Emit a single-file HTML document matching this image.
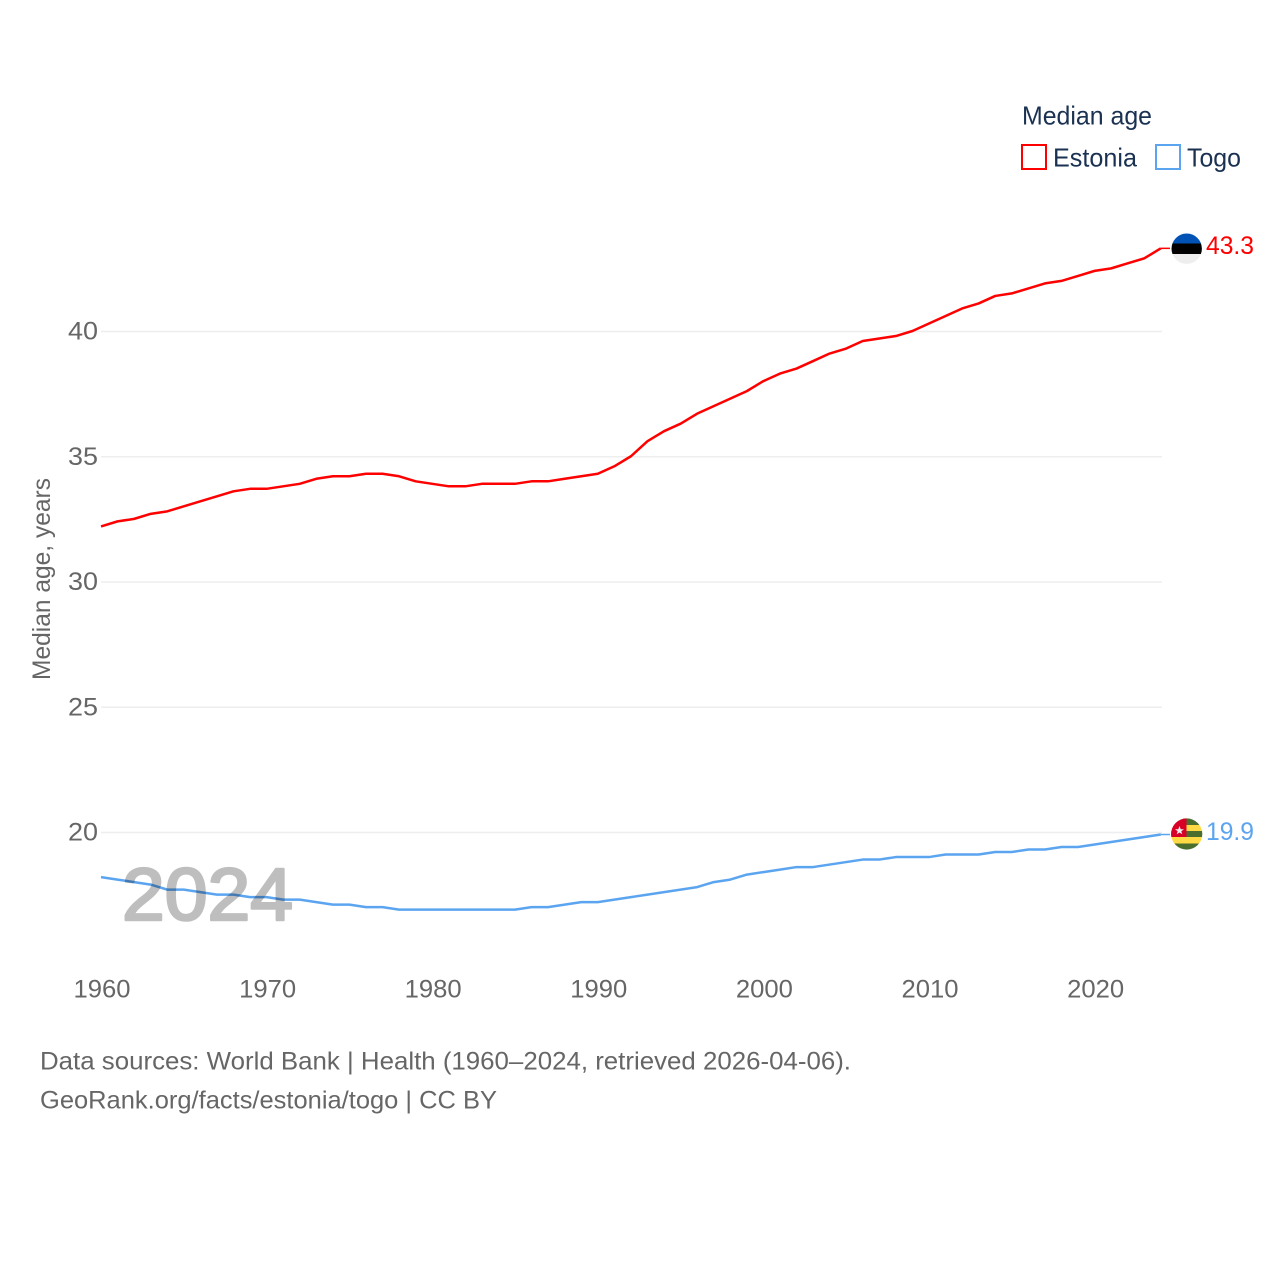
<!DOCTYPE html>
<html lang="en">
<head>
<meta charset="utf-8">
<title>Median age: Estonia and Togo</title>
<style>
  html, body { margin: 0; padding: 0; background: #fff; }
  svg { display: block; }
  text { font-family: "Liberation Sans", sans-serif; }
</style>
</head>
<body>
<svg id="chart" xmlns="http://www.w3.org/2000/svg" width="1280" height="1280" viewBox="0 0 1280 1280">
  <defs>
    <clipPath id="flag-clip-estonia"><circle cx="1186.7" cy="248.7" r="15.2"/></clipPath>
    <clipPath id="flag-clip-togo"><circle cx="1186.7" cy="834" r="15.6"/></clipPath>
  </defs>
  <rect x="0" y="0" width="1280" height="1280" fill="#ffffff"/>
  <g id="grid"></g>
  <g id="y-ticks"></g>
  <g id="x-ticks"></g>
  <text transform="translate(50,680) rotate(-90)" x="0" y="0" font-size="25" fill="#666666" textLength="202" lengthAdjust="spacingAndGlyphs">Median age, years</text>
  <g id="series"></g>
  <text x="122" y="920" font-size="74" fill="#000000" stroke="#000000" stroke-width="2.6" stroke-linejoin="round" opacity="0.25" textLength="171" lengthAdjust="spacingAndGlyphs">2024</text>

  <g clip-path="url(#flag-clip-estonia)">
    <rect x="1170" y="232" width="34" height="11.5" fill="#0052b4"/>
    <rect x="1170" y="243.5" width="34" height="10.5" fill="#000000"/>
    <rect x="1170" y="254" width="34" height="12" fill="#eeeeee"/>
  </g>
  <g clip-path="url(#flag-clip-togo)">
    <rect x="1170" y="817" width="34" height="8" fill="#496e2d"/>
    <rect x="1170" y="825" width="34" height="6" fill="#ffda44"/>
    <rect x="1170" y="831" width="34" height="6" fill="#496e2d"/>
    <rect x="1170" y="837" width="34" height="6.5" fill="#ffda44"/>
    <rect x="1170" y="843.5" width="34" height="7.5" fill="#496e2d"/>
    <rect x="1170" y="817" width="16.5" height="20" fill="#d80027"/>
    <polygon points="1179.5,826 1180.7,829.2 1184,829.2 1181.3,831.2 1182.3,834.4 1179.5,832.5 1176.7,834.4 1177.7,831.2 1175,829.2 1178.3,829.2" fill="#f0f0f0"/>
  </g>
  <text x="1206" y="254" font-size="25" fill="#ff0000" textLength="48" lengthAdjust="spacingAndGlyphs">43.3</text>
  <text x="1206" y="840" font-size="25" fill="#5ba4f0" textLength="48" lengthAdjust="spacingAndGlyphs">19.9</text>

  <g>
    <text x="1022" y="124.5" font-size="26" fill="#1a3152" textLength="130" lengthAdjust="spacingAndGlyphs">Median age</text>
    <rect x="1022" y="145" width="24" height="24" fill="none" stroke="#ff0000" stroke-width="2"/>
    <text x="1053" y="166.5" font-size="26" fill="#1a3152" textLength="84" lengthAdjust="spacingAndGlyphs">Estonia</text>
    <rect x="1156" y="145" width="24" height="24" fill="none" stroke="#5ba4f0" stroke-width="2"/>
    <text x="1187" y="166.5" font-size="26" fill="#1a3152" textLength="54" lengthAdjust="spacingAndGlyphs">Togo</text>
  </g>

  <text x="40" y="1069.5" font-size="25" fill="#666666" textLength="811" lengthAdjust="spacingAndGlyphs">Data sources: World Bank | Health (1960–2024, retrieved 2026-04-06).</text>
  <text x="40" y="1108.5" font-size="25" fill="#666666" textLength="457" lengthAdjust="spacingAndGlyphs">GeoRank.org/facts/estonia/togo | CC BY</text>
</svg>
<script>
var startYear = 1960;
var yTickValues = [20, 25, 30, 35, 40];
var xTickValues = [1960, 1970, 1980, 1990, 2000, 2010, 2020];
var estoniaValues = [32.2, 32.4, 32.5, 32.7, 32.8, 33.0, 33.2, 33.4, 33.6, 33.7, 33.7, 33.8, 33.9, 34.1, 34.2, 34.2, 34.3, 34.3, 34.2, 34.0, 33.9, 33.8, 33.8, 33.9, 33.9, 33.9, 34.0, 34.0, 34.1, 34.2, 34.3, 34.6, 35.0, 35.6, 36.0, 36.3, 36.7, 37.0, 37.3, 37.6, 38.0, 38.3, 38.5, 38.8, 39.1, 39.3, 39.6, 39.7, 39.8, 40.0, 40.3, 40.6, 40.9, 41.1, 41.4, 41.5, 41.7, 41.9, 42.0, 42.2, 42.4, 42.5, 42.7, 42.9, 43.3];
var togoValues = [18.2, 18.1, 18.0, 17.9, 17.7, 17.7, 17.6, 17.5, 17.5, 17.4, 17.4, 17.3, 17.3, 17.2, 17.1, 17.1, 17.0, 17.0, 16.9, 16.9, 16.9, 16.9, 16.9, 16.9, 16.9, 16.9, 17.0, 17.0, 17.1, 17.2, 17.2, 17.3, 17.4, 17.5, 17.6, 17.7, 17.8, 18.0, 18.1, 18.3, 18.4, 18.5, 18.6, 18.6, 18.7, 18.8, 18.9, 18.9, 19.0, 19.0, 19.0, 19.1, 19.1, 19.1, 19.2, 19.2, 19.3, 19.3, 19.4, 19.4, 19.5, 19.6, 19.7, 19.8, 19.9];

var SVG_NS = 'http://www.w3.org/2000/svg';
function xScale(year) { return 101 + (year - 1960) * 16.56; }
function yScale(value) { return 832 - (value - 20) * 25.05; }
function svgEl(tag) { return document.createElementNS(SVG_NS, tag); }

var gridGroup = document.getElementById('grid');
var yTickGroup = document.getElementById('y-ticks');
var xTickGroup = document.getElementById('x-ticks');
var seriesGroup = document.getElementById('series');

yTickValues.forEach(function (v) {
  var line = svgEl('line');
  
  
  line.setAttribute('x1', 101);
  line.setAttribute('x2', 1162);
  line.setAttribute('y1', yScale(v) + 0.5);
  line.setAttribute('y2', yScale(v) + 0.5);
  line.setAttribute('stroke', '#eeeeee');
  line.setAttribute('stroke-width', '1.5');
  gridGroup.appendChild(line);

  var label = svgEl('text');
  
  
  label.setAttribute('x', 68);
  label.setAttribute('y', yScale(v) + 8.5);
  label.setAttribute('font-size', '25');
  label.setAttribute('fill', '#666666');
  label.setAttribute('textLength', '30');
  label.setAttribute('lengthAdjust', 'spacingAndGlyphs');
  label.textContent = String(v);
  yTickGroup.appendChild(label);
});

xTickValues.forEach(function (year) {
  var label = svgEl('text');
  
  
  label.setAttribute('x', xScale(year) - 27.5);
  label.setAttribute('y', 997.5);
  label.setAttribute('font-size', '25');
  label.setAttribute('fill', '#666666');
  label.setAttribute('textLength', '57');
  label.setAttribute('lengthAdjust', 'spacingAndGlyphs');
  label.textContent = String(year);
  xTickGroup.appendChild(label);
});

function drawSeries(name, values, color) {
  var pts = values.map(function (v, i) {
    return xScale(startYear + i).toFixed(2) + ',' + yScale(v).toFixed(2);
  });
  var path = svgEl('polyline');
  
  
  path.setAttribute('points', pts.join(' '));
  path.setAttribute('fill', 'none');
  path.setAttribute('stroke', color);
  path.setAttribute('stroke-width', '2.5');
  path.setAttribute('stroke-linejoin', 'round');
  seriesGroup.appendChild(path);

  var lastIndex = values.length - 1;
  var lastY = yScale(values[lastIndex]);
  var connector = svgEl('line');
  
  
  connector.setAttribute('x1', xScale(startYear + lastIndex));
  connector.setAttribute('x2', 1170);
  connector.setAttribute('y1', lastY);
  connector.setAttribute('y2', lastY);
  connector.setAttribute('stroke', color);
  connector.setAttribute('stroke-width', '1.5');
  seriesGroup.appendChild(connector);
}

drawSeries('estonia', estoniaValues, '#ff0000');
drawSeries('togo', togoValues, '#5ba4f0');
</script>
</body>
</html>
